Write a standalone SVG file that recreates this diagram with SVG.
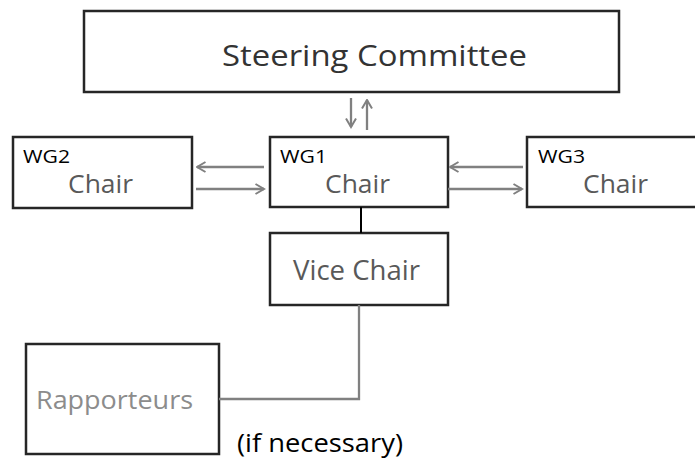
<svg xmlns="http://www.w3.org/2000/svg" width="695" height="459" viewBox="0 0 695 459">
<style>
.box{fill:#fff;stroke:#262626;stroke-width:2.5}
.t{font-family:"Open Sans","Liberation Sans",sans-serif}
.wg{font-size:19px;fill:#000}
.chair{font-size:26px;fill:#595959}
.con{fill:none;stroke:#808080;stroke-width:2.3}
</style>
<defs>
<marker id="ah" viewBox="0 0 12 12" refX="10.5" refY="6" markerWidth="12" markerHeight="12" markerUnits="userSpaceOnUse" orient="auto">
<path d="M2,1 L10.5,6 L2,11" fill="none" stroke="#808080" stroke-width="2"/>
</marker>
</defs>
<rect width="695" height="459" fill="#fff"/>
<g id="steering">
<rect class="box" x="84" y="11" width="535" height="81"/>
<text class="t" x="222" y="66" font-size="29" fill="#333" textLength="305" lengthAdjust="spacingAndGlyphs">Steering  Committee</text>
</g>
<g id="wg2">
<rect class="box" x="13" y="137" width="179" height="71"/>
<text class="t wg" x="23" y="163" textLength="47" lengthAdjust="spacingAndGlyphs">WG2</text>
<text class="t chair" x="68" y="193" textLength="65" lengthAdjust="spacingAndGlyphs">Chair</text>
</g>
<g id="wg1">
<rect class="box" x="270" y="137" width="178" height="70"/>
<text class="t wg" x="280" y="163" textLength="47" lengthAdjust="spacingAndGlyphs">WG1</text>
<text class="t chair" x="325" y="193" textLength="65" lengthAdjust="spacingAndGlyphs">Chair</text>
</g>
<g id="wg3">
<rect class="box" x="527" y="137" width="180" height="70"/>
<text class="t wg" x="538" y="163" textLength="47" lengthAdjust="spacingAndGlyphs">WG3</text>
<text class="t chair" x="583" y="193" textLength="65" lengthAdjust="spacingAndGlyphs">Chair</text>
</g>
<g id="vicechair">
<rect class="box" x="270" y="233" width="178" height="72"/>
<text class="t" x="293" y="280" font-size="28" fill="#595959" textLength="127" lengthAdjust="spacingAndGlyphs">Vice Chair</text>
</g>
<g id="rapporteurs">
<rect class="box" x="26" y="344" width="193" height="110"/>
<text class="t" x="36" y="409" font-size="26" fill="#8c8c8c" textLength="157" lengthAdjust="spacingAndGlyphs">Rapporteurs</text>
</g>
<g id="note">
<text class="t" x="237" y="452" font-size="26" fill="#000" textLength="166" lengthAdjust="spacingAndGlyphs">(if necessary)</text>
</g>
<g id="connectors">
<line class="con" x1="351" y1="98" x2="351" y2="127" marker-end="url(#ah)"/>
<line class="con" x1="367" y1="130" x2="367" y2="100" marker-end="url(#ah)"/>
<line class="con" x1="264" y1="167" x2="197" y2="167" marker-end="url(#ah)"/>
<line class="con" x1="196" y1="189" x2="264" y2="189" marker-end="url(#ah)"/>
<line class="con" x1="523" y1="167" x2="450" y2="167" marker-end="url(#ah)"/>
<line class="con" x1="448" y1="189" x2="522" y2="189" marker-end="url(#ah)"/>
<line x1="361" y1="207" x2="361" y2="233" stroke="#000" stroke-width="2"/>
<polyline class="con" points="359,305 359,399 219,399"/>
</g>
</svg>
